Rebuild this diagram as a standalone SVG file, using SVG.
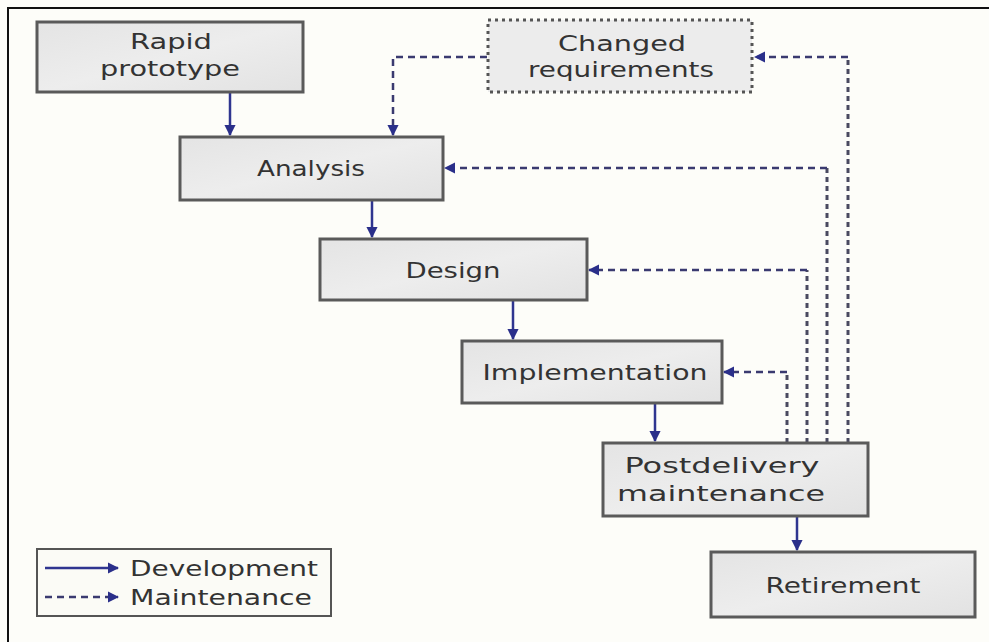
<svg xmlns="http://www.w3.org/2000/svg" width="989" height="642" viewBox="0 0 989 642">
<style>
.box{fill:url(#g);stroke:#5a5a5a;stroke-width:3}
.cr{fill:#ececec;stroke:#555;stroke-width:3;stroke-dasharray:3 4}
.t{font-family:"DejaVu Sans","Verdana",sans-serif;font-size:21px;fill:#333;text-anchor:middle}
.lt{font-family:"DejaVu Sans","Verdana",sans-serif;font-size:21px;fill:#333}
.dev{fill:none;stroke:#2f3590;stroke-width:2.5;marker-end:url(#ah)}
.mnt{fill:none;stroke:#3a3a70;stroke-width:2.5;stroke-dasharray:7 5;marker-end:url(#ah)}
.mntv{fill:none;stroke:#4a4a60;stroke-width:3;stroke-dasharray:5 4}
</style>
<defs>
<linearGradient id="g" x1="0" y1="0" x2="1" y2="1">
<stop offset="0" stop-color="#e4e4e4"/>
<stop offset="0.5" stop-color="#ededed"/>
<stop offset="1" stop-color="#e2e2e2"/>
</linearGradient>
<marker id="ah" viewBox="0 0 10 10" refX="9" refY="5" markerWidth="4.5" markerHeight="4.5" orient="auto">
<path d="M0,0 L10,5 L0,10 z" fill="#2a2f8a"/>
</marker>
</defs>
<rect x="0" y="0" width="989" height="642" fill="#fdfdf9"/>
<rect x="8" y="8" width="1000" height="1000" fill="none" stroke="#111" stroke-width="2"/>

<g id="connectors">
<line class="dev" x1="230" y1="93" x2="230" y2="135"/>
<line class="dev" x1="372" y1="201" x2="372" y2="237"/>
<line class="dev" x1="513" y1="301" x2="513" y2="339"/>
<line class="dev" x1="655" y1="404" x2="655" y2="441"/>
<line class="dev" x1="797" y1="517" x2="797" y2="550"/>
<polyline class="mnt" points="487,57 393,57 393,135"/>
<polyline class="mntv" points="848,443 848,57"/>
<line class="mnt" x1="848" y1="57" x2="755" y2="57"/>
<polyline class="mntv" points="827,443 827,168"/>
<line class="mnt" x1="827" y1="168" x2="445" y2="168"/>
<polyline class="mntv" points="807,443 807,270"/>
<line class="mnt" x1="807" y1="270" x2="589" y2="270"/>
<polyline class="mntv" points="787,443 787,372"/>
<line class="mnt" x1="787" y1="372" x2="724" y2="372"/>
</g>

<g id="rapid-prototype">
<rect class="box" x="37" y="22" width="266" height="70"/>
<text class="t" x="171" y="49" textLength="82" lengthAdjust="spacingAndGlyphs">Rapid</text>
<text class="t" x="170" y="76" textLength="140" lengthAdjust="spacingAndGlyphs">prototype</text>
</g>

<g id="changed-requirements">
<rect class="cr" x="488" y="20" width="264" height="72"/>
<text class="t" x="622" y="51" textLength="128" lengthAdjust="spacingAndGlyphs">Changed</text>
<text class="t" x="621" y="77" textLength="186" lengthAdjust="spacingAndGlyphs">requirements</text>
</g>

<g id="analysis">
<rect class="box" x="180" y="137" width="263" height="63"/>
<text class="t" x="311" y="176" textLength="108" lengthAdjust="spacingAndGlyphs">Analysis</text>
</g>

<g id="design">
<rect class="box" x="320" y="239" width="267" height="61"/>
<text class="t" x="453" y="278" textLength="95" lengthAdjust="spacingAndGlyphs">Design</text>
</g>

<g id="implementation">
<rect class="box" x="462" y="341" width="260" height="62"/>
<text class="t" x="595" y="380" textLength="225" lengthAdjust="spacingAndGlyphs">Implementation</text>
</g>

<g id="postdelivery-maintenance">
<rect class="box" x="603" y="443" width="265" height="73"/>
<text class="t" x="722" y="473" textLength="195" lengthAdjust="spacingAndGlyphs">Postdelivery</text>
<text class="t" x="721" y="501" textLength="208" lengthAdjust="spacingAndGlyphs">maintenance</text>
</g>

<g id="retirement">
<rect class="box" x="711" y="552" width="264" height="65"/>
<text class="t" x="843" y="593" textLength="155" lengthAdjust="spacingAndGlyphs">Retirement</text>
</g>

<g id="legend">
<rect x="37" y="549" width="294" height="67" fill="#fbfbf6" stroke="#555" stroke-width="2"/>
<line class="dev" x1="45" y1="568" x2="118" y2="568"/>
<line class="mnt" x1="45" y1="597" x2="118" y2="597"/>
<text class="lt" x="130" y="576" textLength="188" lengthAdjust="spacingAndGlyphs">Development</text>
<text class="lt" x="130" y="605" textLength="182" lengthAdjust="spacingAndGlyphs">Maintenance</text>
</g>
</svg>
